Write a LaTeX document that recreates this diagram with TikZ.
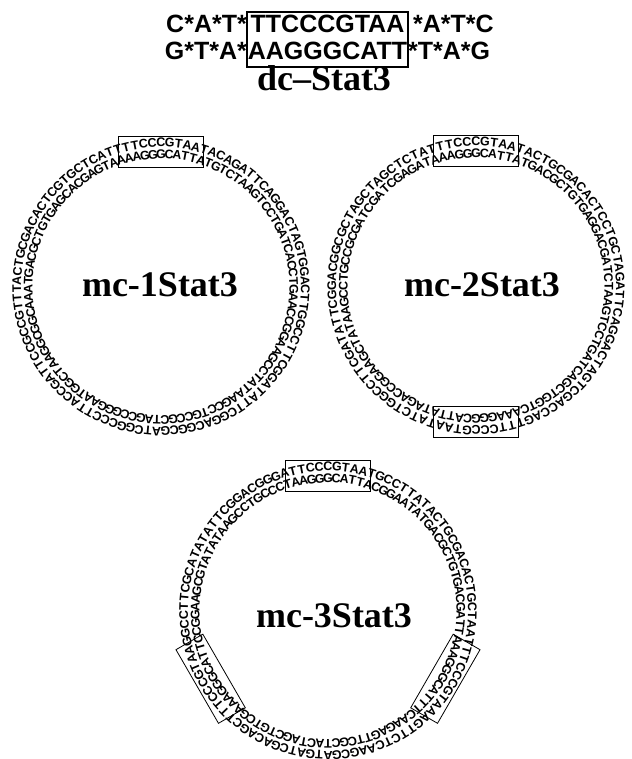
\documentclass[tikz,border=0pt]{standalone}
\usepackage{fontspec}
\setmainfont{Liberation Serif}
\newfontfamily\seqfont{Liberation Sans}

\tikzset{
  ringletter/.style={font=\seqfont\bfseries\fontsize{12.5}{13}\selectfont, inner sep=0pt, anchor=base},
  seqbox/.style={draw, line width=0.8pt, minimum width=85pt, minimum height=31pt, inner sep=0pt},
  topseq/.style={font=\seqfont\bfseries\fontsize{25}{26}\selectfont, inner sep=0pt},
  mclabel/.style={font=\bfseries\fontsize{36}{38}\selectfont, inner sep=0pt, anchor=base}
}

\ExplSyntaxOn
\int_new:N \l_rk_i_int
\tl_new:N \l_rk_a_tl
\tl_new:N \l_rk_r_tl
\tl_new:N \l_rk_xo_tl
\tl_new:N \l_rk_yo_tl
\tl_new:N \l_rk_xi_tl
\tl_new:N \l_rk_yi_tl
\cs_new:Npn \rk_comp:n #1 { \str_case:nn {#1} { {A}{T} {T}{A} {C}{G} {G}{C} } }
% #1 name prefix, #2 cx, #3 cy, #4 number of letters, #5 sequence
\NewDocumentCommand \ringpair { m m m m m }
 {
  \int_zero:N \l_rk_i_int
  \tl_map_inline:nn {#5}
   {
    \tl_set:Nx \l_rk_a_tl { \fp_eval:n { 90 + (4 - \l_rk_i_int) * 360 / #4 } }
    \tl_set:Nx \l_rk_r_tl { \fp_eval:n { \l_rk_a_tl - 90 } }
    \tl_set:Nx \l_rk_xo_tl { \fp_eval:n { #2 + 140 * cosd(\l_rk_a_tl) } }
    \tl_set:Nx \l_rk_yo_tl { \fp_eval:n { #3 + 140 * sind(\l_rk_a_tl) } }
    \tl_set:Nx \l_rk_xi_tl { \fp_eval:n { #2 + 128.5 * cosd(\l_rk_a_tl) } }
    \tl_set:Nx \l_rk_yi_tl { \fp_eval:n { #3 + 128.5 * sind(\l_rk_a_tl) } }
    \node (#1o\int_use:N \l_rk_i_int) [ringletter, rotate=\l_rk_r_tl] at (\l_rk_xo_tl, \l_rk_yo_tl) {##1};
    \node (#1i\int_use:N \l_rk_i_int) [ringletter, rotate=\l_rk_r_tl] at (\l_rk_xi_tl, \l_rk_yi_tl) {\rk_comp:n{##1}};
    \int_incr:N \l_rk_i_int
   }
 }
\ExplSyntaxOff

\begin{document}
\begin{tikzpicture}[x=1pt,y=1pt]
\useasboundingbox (0,0) rectangle (631,759);
\fill[white] (0,0) rectangle (631,759);

% ---- top decoy ----
\node (dcbox) [draw, line width=1.5pt, minimum width=161pt, minimum height=55pt, inner sep=0pt] at (327.5,719.5) {};
\node (s1m) [topseq, anchor=base] at (327.5,726) {TTCCCGTAA};
\node (s2m) [topseq, anchor=base] at (327.5,699) {AAGGGCATT};
\node (s1l) [topseq, anchor=base east] at (247,726) {C*A*T*};
\node (s1r) [topseq, anchor=base west] at (413,726) {*A*T*C};
\node (s2l) [topseq, anchor=base east] at (247,699) {G*T*A*};
\node (s2r) [topseq, anchor=base west] at (408,699) {*T*A*G};
\node (dc) [mclabel] at (324,668) {dc–Stat3};

% ---- mc-1Stat3 ----
\coordinate (c1) at (161,472);
\ringpair{ra}{161}{472}{103}{TTCCCGTAATACAGATTCAGGACTAGTGGACTTGGCCTTCGGATATTCGGACGGCGATCGGCCCTTACCGATTCCGCCGTTTACTGCGACACTCGTGCTCATT}
\node (b1a) [seqbox] at ([shift={(c1)}]90:135.5) {};
\node (l1) [mclabel] at (160,462) {mc-1Stat3};

% ---- mc-2Stat3 ----
\coordinate (c2) at (476,473);
\ringpair{rb}{476}{473}{100}{TTCCCGTAATACTGCGACACTCCTGCTAGATTCAGGACTAGTCGACCAGTTTCCCGTAATATCTGGCCTTCGATATTCGGACGGCGCTAGCTAGCTCTAT}
\node (b2a) [seqbox] at ([shift={(c2)}]90:135.5) {};
\node (b2b) [seqbox, rotate=180] at ([shift={(c2)}]-90:135.5) {};
\node (l2) [mclabel] at (482,462) {mc-2Stat3};

% ---- mc-3Stat3 ----
\coordinate (c3) at (328,148);
\ringpair{rc}{328}{148}{102}{TTCCCGTAATGCCTTATACTGCGACACTGCTAATTTCCCGTAAAGTTCTCAAGCGATGATCGACAGCTTTCCCGTAAGGCCTTCGCATATATTCGGACGGGA}
\node (b3a) [seqbox] at ([shift={(c3)}]90:135.5) {};
\node (b3b) [seqbox, rotate=-120] at ([shift={(c3)}]-30:135.5) {};
\node (b3c) [seqbox, rotate=120] at ([shift={(c3)}]-150:135.5) {};
\node (l3) [mclabel] at (334,131) {mc-3Stat3};
\end{tikzpicture}
\end{document}
